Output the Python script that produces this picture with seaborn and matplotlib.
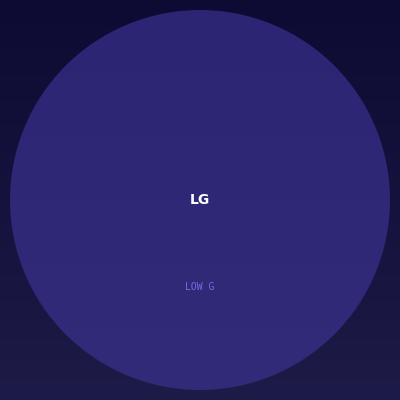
import numpy as np
import matplotlib
matplotlib.use("Agg")
import matplotlib.pyplot as plt
import seaborn as sns
from matplotlib.patches import Circle
from matplotlib.colors import LinearSegmentedColormap

sns.set_theme(style="white")

# data
labels = ["LG"]
sublabels = ["LOW G"]
values = [1.0]
centers_x = [0.0]
centers_y = [0.0]

fig = plt.figure(figsize=(4, 4), dpi=100)
# background gradient
bg = fig.add_axes([0, 0, 1, 1])
bg_cmap = LinearSegmentedColormap.from_list("bg", ["#0d0b33", "#1d1b47"])
bg.imshow(np.linspace(0, 1, 256).reshape(-1, 1), aspect="auto", cmap=bg_cmap,
          extent=[0, 1, 0, 1], origin="upper")
bg.set_axis_off()

ax = fig.add_axes([0, 0, 1, 1])
ax.set_facecolor("none")
ax.set_xlim(-1.0, 1.0)
ax.set_ylim(-1.0, 1.0)
ax.set_aspect("equal")
ax.set_axis_off()

circ_cmap = LinearSegmentedColormap.from_list("c", ["#2c2573", "#322b7a"])
for lab, sub, v, cx, cy in zip(labels, sublabels, values, centers_x, centers_y):
    r = 0.95 * np.sqrt(v)
    grad = ax.imshow(np.linspace(0, 1, 256).reshape(-1, 1), cmap=circ_cmap,
                     extent=[cx - r, cx + r, cy - r, cy + r], origin="upper",
                     aspect="auto", zorder=2)
    patch = Circle((cx, cy), r, facecolor="none", edgecolor="none")
    ax.add_patch(patch)
    grad.set_clip_path(patch)
    ax.text(cx, cy, lab, ha="center", va="center", color="white",
            fontsize=10, fontweight="bold", family="DejaVu Sans", zorder=3)
    ax.text(cx, cy - 0.435 * r / 0.95, sub, ha="center", va="center",
            color="#7a68e0", fontsize=7, family="DejaVu Sans Mono", zorder=3)

fig.savefig("out.png", dpi=100)
